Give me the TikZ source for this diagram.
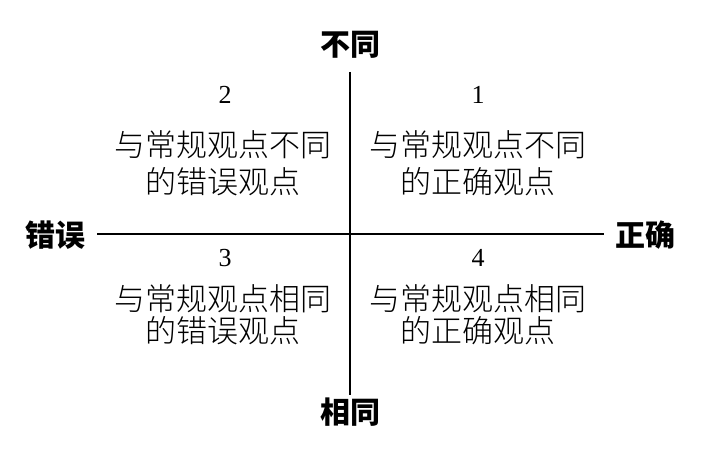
\documentclass[tikz,border=0pt]{standalone}
\usepackage{fontspec}
\newfontfamily\cjk{Noto Sans CJK SC}
\newfontfamily\cjklight{Noto Sans CJK SC Light}
\newfontfamily\numfont{Liberation Serif}

\begin{document}
\begin{tikzpicture}[
    x = 1pt, y = -1pt, line width = 2.6pt,
    axis/.style = {font = \cjk\bfseries\fontsize{30}{32}\selectfont},
    num/.style = {font = \numfont\fontsize{26}{28}\selectfont},
    quad/.style = {align = center, font = \cjklight\fontsize{31}{37}\selectfont}
  ]
  \useasboundingbox (0,0) rectangle (713,462);
  % axes
  \coordinate (T) at (350,72);
  \coordinate (B) at (350,395);
  \coordinate (L) at (97,234);
  \coordinate (R) at (604,234);
  \draw (T) -- (B);
  \draw (L) -- (R);
  \node[axis] (diff)  at (350,45)  {不同};
  \node[axis] (same)  at (350,412) {相同};
  \node[axis] (wrong) at (55,235)  {错误};
  \node[axis] (right) at (645,235) {正确};
  % quadrants
  \node[num] (n2) at (225,95)  {2};
  \node[num] (n1) at (478,95)  {1};
  \node[num] (n3) at (225,258) {3};
  \node[num] (n4) at (478,258) {4};
  \node[quad] (q2) at (223,163) {与常规观点不同\\的错误观点};
  \node[quad] (q1) at (478,163) {与常规观点不同\\的正确观点};
  \node[quad, font = \cjklight\fontsize{31}{32}\selectfont] (q3) at (223,315) {与常规观点相同\\的错误观点};
  \node[quad, font = \cjklight\fontsize{31}{32}\selectfont] (q4) at (478,315) {与常规观点相同\\的正确观点};
\end{tikzpicture}
\end{document}
